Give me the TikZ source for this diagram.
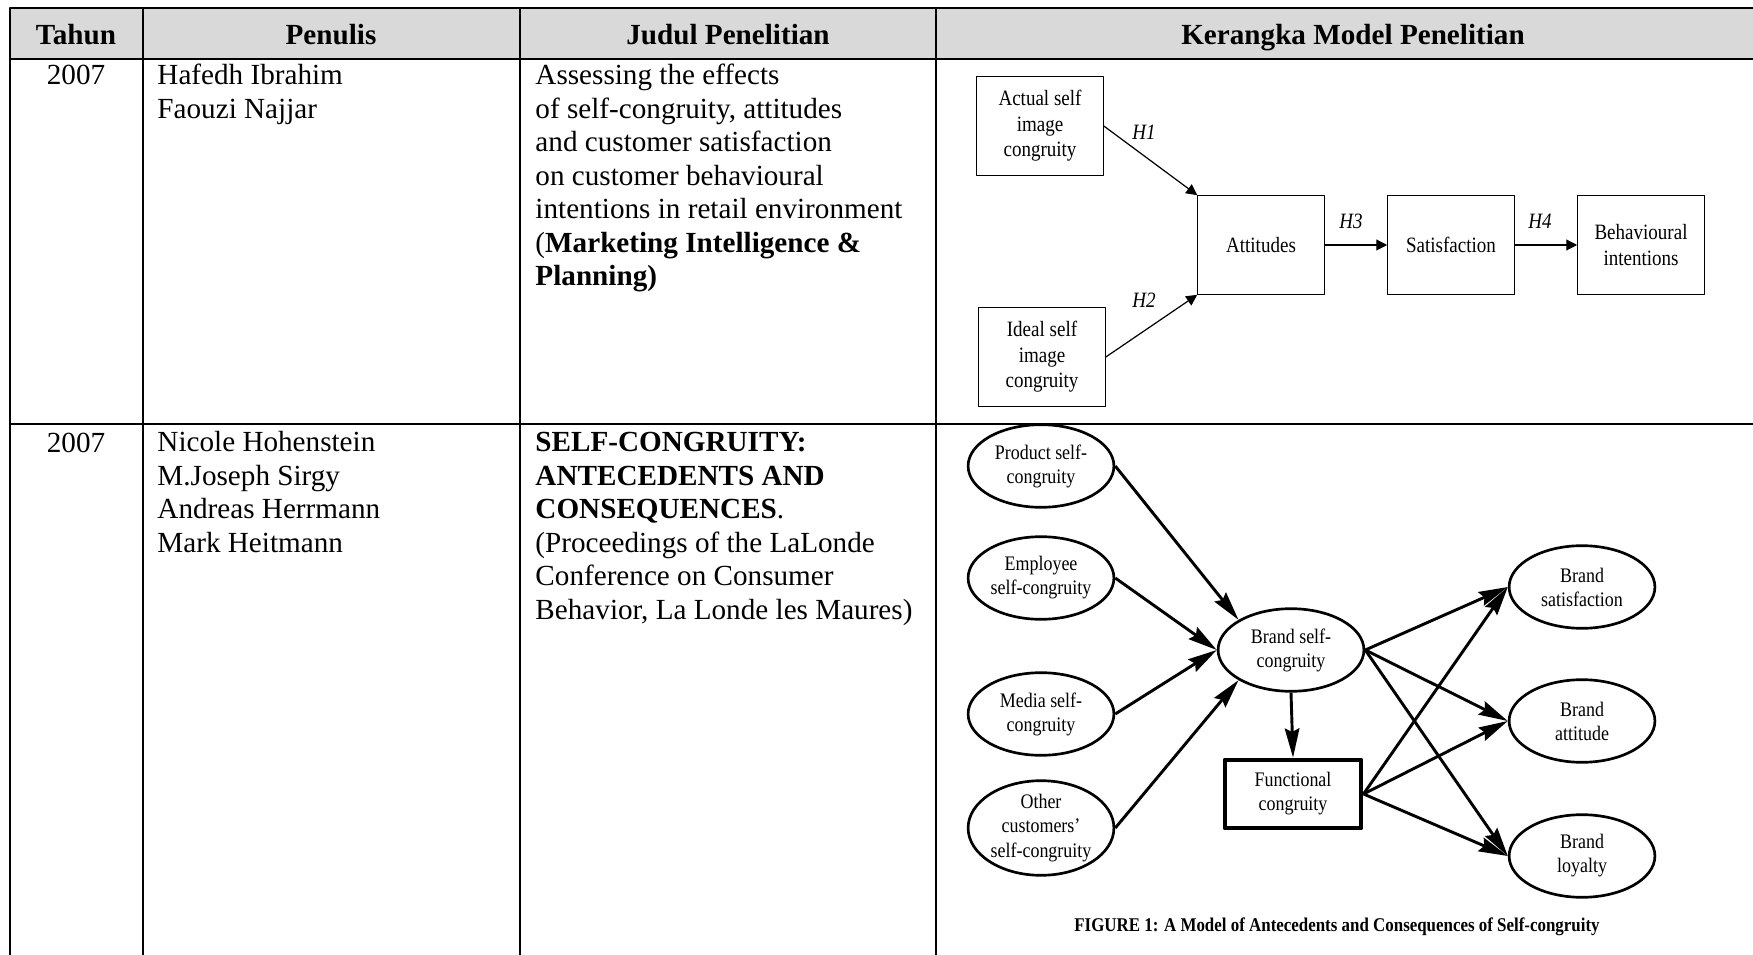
\documentclass[tikz,border=0pt]{standalone}
\usepackage{fontspec}
\setmainfont{Liberation Serif}
\newfontfamily\figfont[FakeStretch=0.87]{Liberation Serif}
\usetikzlibrary{arrows.meta,shapes.geometric,positioning}
\begin{document}
\begin{tikzpicture}[x=0.4115pt, y=-0.4115pt, line join=round,
	font=\fontsize{12}{13.8}\selectfont,
	cell/.style={anchor=base west, align=left, inner sep=0pt},
	head/.style={anchor=base, inner sep=0pt, font=\fontsize{12}{13.8}\selectfont\bfseries},
	box/.style={draw, line width=0.5pt, minimum width=52pt, minimum height=40.5pt, align=center, inner sep=1pt, font=\figfont\fontsize{9}{10.5}\selectfont},
	hyp/.style={inner sep=0pt, font=\figfont\fontsize{9}{10}\selectfont\itshape},
	oval/.style={draw, ellipse, line width=1.1pt, minimum width=60pt, minimum height=34pt, align=center, inner sep=0pt, font=\figfont\fontsize{8.5}{9.9}\selectfont},
	arr/.style={-{Triangle[length=4.5pt,width=4.5pt]}, line width=0.5pt},
	harr/.style={-{Stealth[length=12pt,width=6pt,inset=1.5pt]}, line width=1.2pt}]
	\useasboundingbox (0,0) rectangle (1753,955);
	% tabel
	\fill[gray!30] (10,8) rectangle (1753,59);
	\draw[line width=0.8pt] (1753,8) -- (10,8) -- (10,955);
	\draw[line width=0.8pt] (10,59) -- (1753,59) (10,424) -- (1753,424);
	\foreach \x in {143,520,936} \draw[line width=0.8pt] (\x,8) -- (\x,955);
	\node[head] (tahun) at (76,45) {Tahun};
	\node[head] (penulis) at (331,45) {Penulis};
	\node[head] (judul) at (728,45) {Judul Penelitian};
	\node[head] (kerangka) at (1353,45) {Kerangka Model Penelitian};
	% baris 1 (base = baris terakhir)
	\node[anchor=base, inner sep=0pt] (thA) at (76,85) {2007};
	\node[cell] (pnA) at (157,118.5) {Hafedh Ibrahim\\Faouzi Najjar};
	\node[cell] (jdA) at (535,286) {Assessing the effects\\of self-congruity, attitudes\\and customer satisfaction\\on customer behavioural\\intentions in retail environment\\(\textbf{Marketing Intelligence \&}\\\textbf{Planning)}};
	% baris 2
	\node[anchor=base, inner sep=0pt] (thB) at (76,452) {2007};
	\node[cell] (pnB) at (157,552.5) {Nicole Hohenstein\\M.Joseph Sirgy\\Andreas Herrmann\\Mark Heitmann};
	\node[cell] (jdB) at (535,619.5) {\textbf{SELF-CONGRUITY:}\\\textbf{ANTECEDENTS AND}\\\textbf{CONSEQUENCES}.\\(Proceedings of the LaLonde\\Conference on Consumer\\Behavior, La Londe les Maures)};
	% model 1
	\node[box] (act) at (1040,126) {Actual self\\image\\congruity};
	\node[box] (ideal) at (1042,357) {Ideal self\\image\\congruity};
	\node[box] (att) at (1261,245) {Attitudes};
	\node[box] (sat) at (1451,245) {Satisfaction};
	\node[box] (beh) at (1641,245) {Behavioural\\intentions};
	\draw[arr] (act.east) -- (att.north west);
	\draw[arr] (ideal.east) -- (att.south west);
	\draw[arr] (att) -- (sat);
	\draw[arr] (sat) -- (beh);
	\node[hyp] (H1) at (1144,132) {H1};
	\node[hyp] (H2) at (1144,300) {H2};
	\node[hyp] (H3) at (1351,221) {H3};
	\node[hyp] (H4) at (1540,221) {H4};
	% model 2
	\node[oval] (prod) at (1041,466) {Product self-\\congruity};
	\node[oval] (emp) at (1041,578) {Employee\\self-congruity};
	\node[oval] (med) at (1041,714) {Media self-\\congruity};
	\node[oval, minimum height=38pt] (oth) at (1041,828) {Other\\customers’\\self-congruity};
	\node[oval] (bsc) at (1291,650) {Brand self-\\congruity};
	\node[draw, line width=2pt, minimum width=56pt, minimum height=28pt, align=center, inner sep=0pt, font=\figfont\fontsize{8.5}{9.9}\selectfont] (fun) at (1293,794) {Functional\\congruity};
	\node[oval] (bsat) at (1582,587) {Brand\\satisfaction};
	\node[oval] (batt) at (1582,721) {Brand\\attitude};
	\node[oval] (bloy) at (1582,856) {Brand\\loyalty};
	\foreach \a/\b in {prod/north west, emp/west, med/west, oth/south west}
		\draw[harr] (\a.east) -- (bsc.\b);
	\draw[harr] (bsc.south) -- (fun.north);
	\foreach \a in {bsc, fun}
		\foreach \b in {bsat, batt, bloy}
			\draw[harr] (\a.east) -- (\b.west);
	\node[inner sep=0pt, font=\figfont\fontsize{8}{9}\selectfont\bfseries] (cap) at (1337,927) {FIGURE 1: A Model of Antecedents and Consequences of Self-congruity};
\end{tikzpicture}
\end{document}
